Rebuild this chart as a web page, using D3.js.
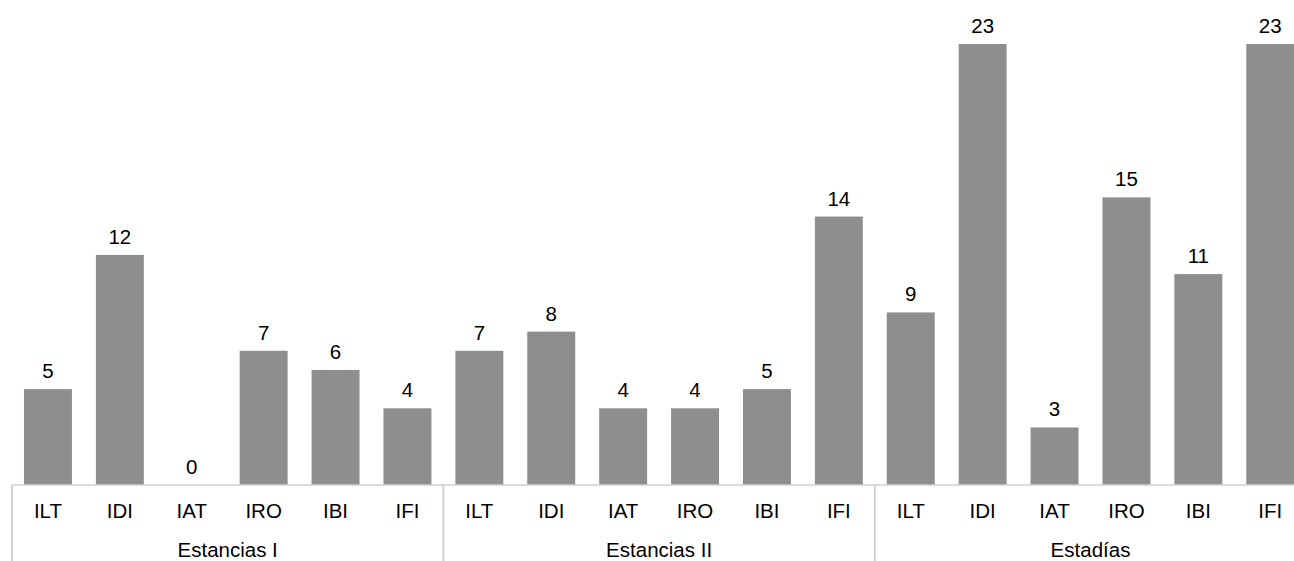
<!DOCTYPE html>
<html>
<head>
<meta charset="utf-8">
<script src="https://cdn.jsdelivr.net/npm/d3@7"></script>
<style>
  html, body { margin: 0; padding: 0; background: #fff; }
  svg { display: block; }
  text { font-family: "Liberation Sans", Arial, sans-serif; fill: #000; }
</style>
</head>
<body>
<svg id="chart" width="1294" height="561"></svg>
<script>
const groups = ["Estancias I", "Estancias II", "Estadías"];
const indicators = ["ILT", "IDI", "IAT", "IRO", "IBI", "IFI"];
const estanciasI = [5, 12, 0, 7, 6, 4];
const estanciasII = [7, 8, 4, 4, 5, 14];
const estadias = [9, 23, 3, 15, 11, 23];
const seriesByGroup = [estanciasI, estanciasII, estadias];

const data = [];
groups.forEach((g, gi) => {
  indicators.forEach((c, ci) => {
    data.push({ key: g + "|" + c, group: g, cat: c, value: seriesByGroup[gi][ci] });
  });
});

const svg = d3.select("#chart");
const x0 = 12, step = 71.9, baseY = 485, topY = 44;
const x = d3.scaleBand()
  .domain(data.map(d => d.key))
  .range([x0, x0 + step * data.length])
  .paddingInner(0.333)
  .paddingOuter(0.1665);
const y = d3.scaleLinear().domain([0, 23]).range([baseY, topY]);

const fs = 20.5;

// bars
svg.append("g").selectAll("rect").data(data).join("rect")
  .attr("x", d => x(d.key))
  .attr("y", d => y(d.value))
  .attr("width", x.bandwidth())
  .attr("height", d => baseY - y(d.value))
  .attr("fill", "#8e8e8e");

// axis line
svg.append("line")
  .attr("x1", x0).attr("x2", x0 + step * data.length)
  .attr("y1", baseY).attr("y2", baseY)
  .attr("stroke", "#d0d0d0").attr("stroke-width", 1.5);

// group separators
const sepXs = groups.map((g, i) => x0 + step * indicators.length * i).concat([x0 + step * data.length]);
svg.append("g").selectAll("line").data(sepXs).join("line")
  .attr("x1", d => d).attr("x2", d => d)
  .attr("y1", baseY).attr("y2", 561)
  .attr("stroke", "#d0d0d0").attr("stroke-width", 2);

// value labels
svg.append("g").selectAll("text").data(data).join("text")
  .attr("x", d => x(d.key) + x.bandwidth() / 2)
  .attr("y", d => y(d.value) - 11)
  .attr("text-anchor", "middle")
  .attr("font-size", fs)
  .text(d => d.value);

// category labels
svg.append("g").selectAll("text").data(data).join("text")
  .attr("x", d => x(d.key) + x.bandwidth() / 2)
  .attr("y", 518)
  .attr("text-anchor", "middle")
  .attr("font-size", fs)
  .text(d => d.cat);

// group labels
svg.append("g").selectAll("text").data(groups).join("text")
  .attr("x", (g, i) => x0 + step * indicators.length * (i + 0.5))
  .attr("y", 557)
  .attr("text-anchor", "middle")
  .attr("font-size", fs)
  .text(g => g);
</script>
</body>
</html>
